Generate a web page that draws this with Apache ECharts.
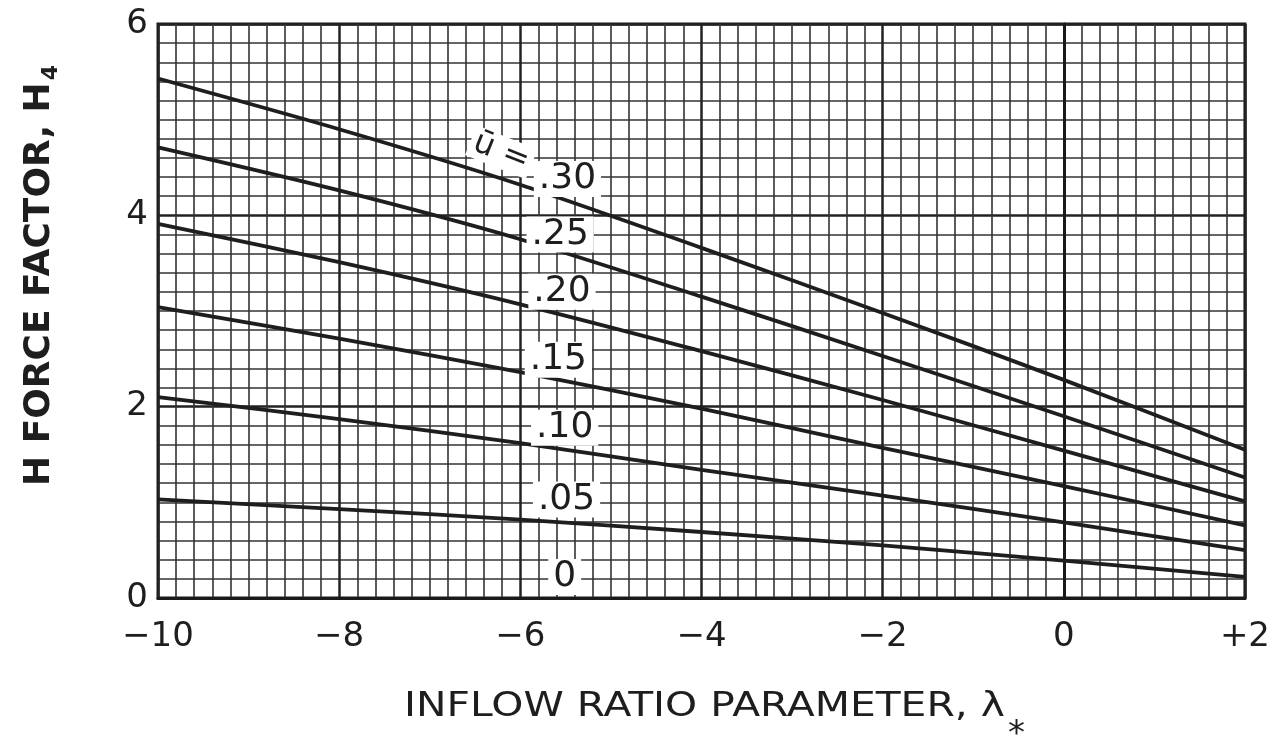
<!DOCTYPE html>
<html>
<head>
<meta charset="utf-8">
<script src="https://cdn.jsdelivr.net/npm/echarts@6/dist/echarts.min.js"></script>
<style>
html,body{margin:0;padding:0;background:#fff;}
#chart{width:1273px;height:752px;}
</style>
</head>
<body>
<div id="chart"></div>
<script>
// Inflow ratio parameter (x)
const lambdaValues = [-10, -8, -6, -4, -2, 0, 2];
// H force factor H4 for each advance ratio u
const u30 = [5.43, 4.90, 4.32, 3.66, 2.98, 2.28, 1.55];
const u25 = [4.71, 4.26, 3.75, 3.15, 2.53, 1.90, 1.26];
const u20 = [3.91, 3.51, 3.07, 2.58, 2.07, 1.54, 1.01];
const u15 = [3.04, 2.71, 2.36, 1.98, 1.57, 1.17, 0.76];
const u10 = [2.10, 1.87, 1.62, 1.34, 1.07, 0.79, 0.50];
const u05 = [1.03, 0.93, 0.82, 0.69, 0.55, 0.39, 0.22];
const seriesNames = ['.30', '.25', '.20', '.15', '.10', '.05'];
const seriesValues = [u30, u25, u20, u15, u10, u05];

// Tick labels
const xTickLabels = ['\u221210', '\u22128', '\u22126', '\u22124', '\u22122', '0', '+2'];
const yTickLabels = ['0', '2', '4', '6'];

// Curve annotation texts and their data-space anchors
const curveLabelTexts = ['.30', '.25', '.20', '.15', '.10', '.05', '0'];
const curveLabelX = [-5.48, -5.56, -5.54, -5.58, -5.51, -5.49, -5.51];
const curveLabelY = [4.38, 3.80, 3.20, 2.49, 1.78, 1.03, 0.22];

const chart = echarts.init(document.getElementById('chart'), null, {renderer: 'canvas'});

const FONT = 'DejaVu Sans';
const INK = '#1e1e1e';

const lineSeries = seriesValues.map((vals, i) => ({
  name: seriesNames[i],
  type: 'line',
  smooth: 0.3,
  symbol: 'none',
  z: 4,
  lineStyle: {color: '#1e1e1e', width: 3.8},
  emphasis: {disabled: true},
  data: lambdaValues.map((x, j) => [x, vals[j]])
}));

const labelSeries = {
  type: 'scatter',
  symbolSize: 0,
  z: 6,
  silent: true,
  itemStyle: {opacity: 1},
  emphasis: {disabled: true},
  data: curveLabelTexts.map((t, i) => ({value: [curveLabelX[i], curveLabelY[i]], name: t})),
  label: {
    show: true,
    position: 'inside',
    formatter: p => p.name,
    fontFamily: FONT,
    fontSize: 36,
    color: INK,
    opacity: 1,
    backgroundColor: '#fff',
    padding: [0, 5, 0, 5]
  }
};

const baseGraphics = [
  {
    id: 'xname', type: 'text', x: 404, y: 690, scaleX: 1.2, z: 10,
    style: {text: 'INFLOW RATIO PARAMETER, \u03bb', fontFamily: FONT, fontSize: 34, fill: INK}
  },
  {
    id: 'xsub', type: 'text', x: 1008, y: 718, z: 10,
    style: {text: '*', fontFamily: FONT, fontSize: 34, fill: INK}
  },
  {
    id: 'yname', type: 'text', x: 22, y: 486, rotation: Math.PI / 2, z: 10,
    style: {text: 'H FORCE FACTOR, H', fontFamily: FONT, fontSize: 36, fontWeight: 'bold', fill: INK}
  }
];

chart.setOption({
  animation: false,
  backgroundColor: '#fff',
  grid: {left: 158, right: 28, top: 24, bottom: 154, show: true, borderColor: '#1a1a1a', borderWidth: 3, backgroundColor: 'transparent'},
  xAxis: {
    type: 'value', min: -10, max: 2, interval: 2,
    axisLine: {show: true, lineStyle: {color: '#1a1a1a', width: 3}},
    axisTick: {show: false},
    axisLabel: {
      margin: 22, fontFamily: FONT, fontSize: 34, color: INK,
      formatter: v => xTickLabels[Math.round((v + 10) / 2)]
    },
    splitLine: {show: true, lineStyle: {color: '#222', width: 2.5}},
    minorTick: {show: false, splitNumber: 10},
    minorSplitLine: {show: true, lineStyle: {color: '#333', width: 1.6}}
  },
  yAxis: {
    type: 'value', min: 0, max: 6, interval: 2,
    axisLine: {show: true, lineStyle: {color: '#1a1a1a', width: 3}},
    axisTick: {show: false},
    axisLabel: {
      margin: 10, fontFamily: FONT, fontSize: 34, color: INK,
      formatter: v => yTickLabels[Math.round(v / 2)]
    },
    splitLine: {show: true, lineStyle: {color: '#222', width: 2.5}},
    minorTick: {show: false, splitNumber: 10},
    minorSplitLine: {show: true, lineStyle: {color: '#333', width: 1.6}}
  },
  graphic: baseGraphics,
  series: lineSeries.concat([labelSeries])
});

// y-name subscript placed after the rendered title; "u-bar =" tag placed via the grid's coordinate system
const yTitle = chart.getZr().storage.getDisplayList().find(el => el.style && el.style.text === 'H FORCE FACTOR, H');
let subY = 70;
if (yTitle) {
  const r = yTitle.getBoundingRect();
  subY = 486 - r.width - 2;
}
const pt = chart.convertToPixel({gridIndex: 0}, [curveLabelX[0] - 0.73, curveLabelY[0] + 0.28]);
chart.setOption({
  graphic: baseGraphics.concat([
    {
      id: 'ysub', type: 'text', x: 40, y: subY, rotation: Math.PI / 2, z: 10,
      style: {text: '4', fontFamily: FONT, fontSize: 22, fontWeight: 'bold', fill: INK}
    },
    {
      id: 'ubar', type: 'text', x: pt[0], y: pt[1], rotation: -0.38, z: 10,
      style: {text: 'u\u0304 =', fontFamily: FONT, fontSize: 32, fill: INK, align: 'center', verticalAlign: 'middle', backgroundColor: '#fff', padding: [0, 4, 0, 4]}
    }
  ])
});
</script>
</body>
</html>
